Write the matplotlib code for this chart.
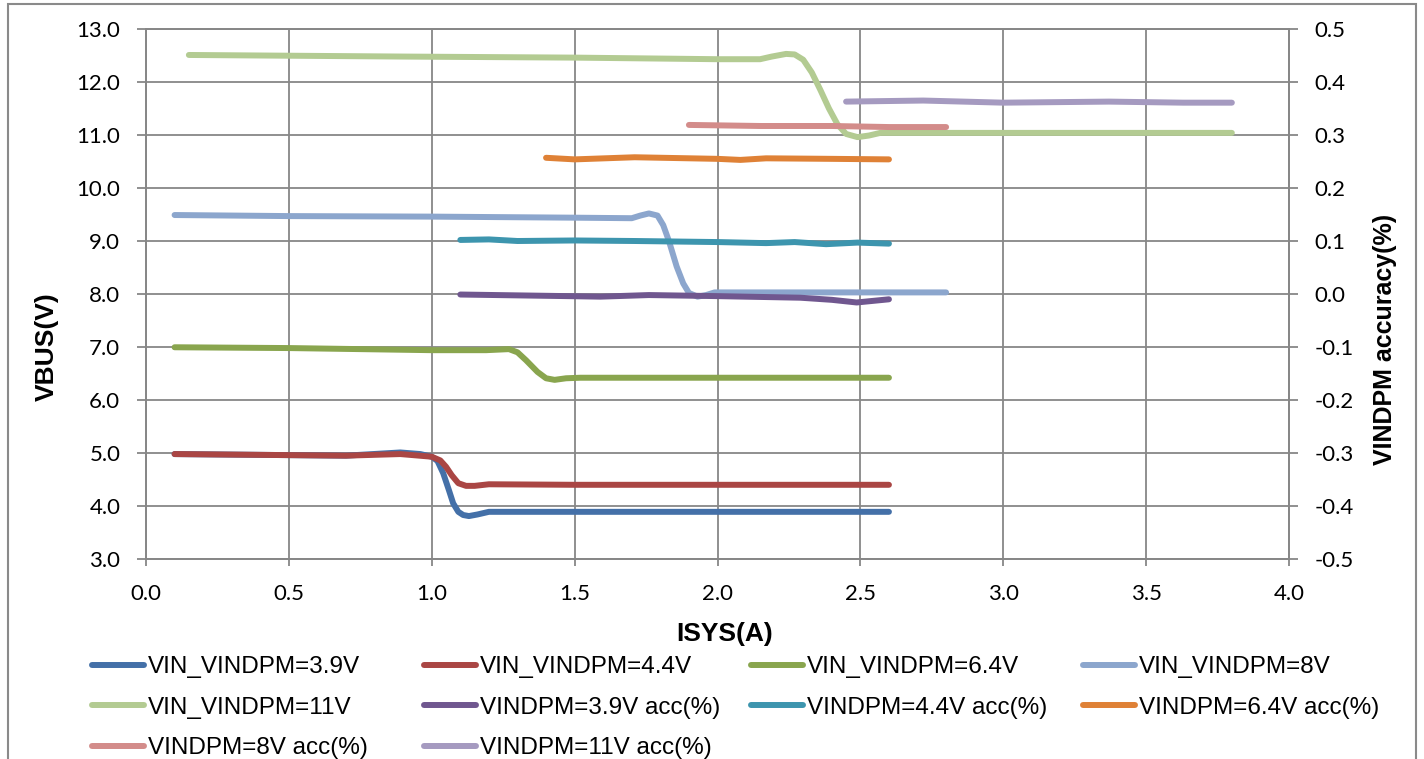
import matplotlib
matplotlib.use("Agg")
import matplotlib.pyplot as plt
from matplotlib.lines import Line2D
from matplotlib.patches import Rectangle

plt.rcParams['axes.unicode_minus'] = False

# ---------------- data ----------------
x_39 = [0.1, 0.5, 0.7, 0.89, 0.96, 1.0, 1.02, 1.04, 1.06, 1.075, 1.093, 1.11, 1.13, 1.16, 1.2, 1.5, 2.0, 2.6]
v_39 = [4.98, 4.96, 4.95, 5.01, 4.98, 4.93, 4.85, 4.62, 4.30, 4.05, 3.89, 3.83, 3.81, 3.84, 3.89, 3.89, 3.89, 3.89]

x_44 = [0.1, 0.5, 0.7, 0.89, 1.0, 1.03, 1.05, 1.07, 1.093, 1.12, 1.15, 1.2, 1.5, 2.0, 2.6]
v_44 = [4.98, 4.96, 4.95, 4.98, 4.93, 4.86, 4.74, 4.58, 4.43, 4.38, 4.38, 4.41, 4.40, 4.40, 4.40]

x_64 = [0.1, 0.5, 1.0, 1.19, 1.27, 1.30, 1.33, 1.37, 1.40, 1.43, 1.47, 1.52, 2.0, 2.6]
v_64 = [6.995, 6.98, 6.94, 6.94, 6.96, 6.90, 6.75, 6.53, 6.41, 6.38, 6.41, 6.42, 6.42, 6.42]

x_8 = [0.1, 0.5, 1.0, 1.5, 1.70, 1.73, 1.76, 1.79, 1.81, 1.83, 1.857, 1.88, 1.90, 1.93, 1.96, 1.99, 2.4, 2.8]
v_8 = [9.49, 9.47, 9.46, 9.44, 9.43, 9.48, 9.52, 9.48, 9.30, 9.00, 8.52, 8.20, 8.02, 7.95, 7.98, 8.03, 8.03, 8.03]

x_11 = [0.15, 0.9, 1.5, 2.0, 2.149, 2.19, 2.24, 2.27, 2.30, 2.33, 2.36, 2.39, 2.42, 2.45, 2.49, 2.53, 2.57, 3.0, 3.5, 3.8]
v_11 = [12.51, 12.48, 12.46, 12.43, 12.43, 12.48, 12.53, 12.52, 12.42, 12.18, 11.85, 11.50, 11.20, 11.02, 10.96, 10.99, 11.04, 11.04, 11.04, 11.04]

xa_39 = [1.1, 1.475, 1.59, 1.76, 2.0, 2.29, 2.40, 2.487, 2.6]
acc_39 = [-0.001, -0.004, -0.005, -0.002, -0.004, -0.007, -0.011, -0.016, -0.010]

xa_44 = [1.1, 1.2, 1.3, 1.5, 1.71, 2.0, 2.17, 2.27, 2.38, 2.49, 2.6]
acc_44 = [0.102, 0.103, 0.100, 0.101, 0.100, 0.098, 0.096, 0.098, 0.094, 0.097, 0.095]

xa_64 = [1.4, 1.5, 1.71, 2.0, 2.08, 2.17, 2.40, 2.6]
acc_64 = [0.257, 0.254, 0.258, 0.255, 0.253, 0.256, 0.255, 0.254]

xa_8 = [1.9, 2.15, 2.40, 2.6, 2.8]
acc_8 = [0.319, 0.317, 0.317, 0.315, 0.315]

xa_11 = [2.45, 2.72, 3.0, 3.37, 3.63, 3.8]
acc_11 = [0.363, 0.365, 0.361, 0.363, 0.361, 0.361]

labels = ["VIN_VINDPM=3.9V", "VIN_VINDPM=4.4V", "VIN_VINDPM=6.4V", "VIN_VINDPM=8V",
          "VIN_VINDPM=11V", "VINDPM=3.9V acc(%)", "VINDPM=4.4V acc(%)", "VINDPM=6.4V acc(%)",
          "VINDPM=8V acc(%)", "VINDPM=11V acc(%)"]
colors = ["#4470A8", "#AA4644", "#89A54E", "#8CA6CD", "#B3CB92",
          "#70578F", "#3D95AE", "#DF8136", "#D38C8A", "#A59AC0"]

x_ticks = [0.0, 0.5, 1.0, 1.5, 2.0, 2.5, 3.0, 3.5, 4.0]
y_ticks = [3.0, 4.0, 5.0, 6.0, 7.0, 8.0, 9.0, 10.0, 11.0, 12.0, 13.0]
y2_ticks = [-0.5, -0.4, -0.3, -0.2, -0.1, 0.0, 0.1, 0.2, 0.3, 0.4, 0.5]

# ---------------- figure ----------------
W, H = 1424, 759
fig = plt.figure(figsize=(W / 100, H / 100), dpi=100)
L, R, T, B = 146, 1289, 29, 559
ax = fig.add_axes([L / W, 1 - B / H, (R - L) / W, (B - T) / H])
ax2 = ax.twinx()

grid_c = "#878787"
lw = 4.3
tick_font = "Lato"

left_series = [(x_39, v_39), (x_44, v_44), (x_64, v_64), (x_8, v_8), (x_11, v_11)]
right_series = [(xa_39, acc_39), (xa_44, acc_44), (xa_64, acc_64), (xa_8, acc_8), (xa_11, acc_11)]

for i, (xs, ys) in enumerate(left_series):
    ax.plot(xs, ys, color=colors[i], lw=lw, solid_capstyle='round', solid_joinstyle='round')
for j, (xs, ys) in enumerate(right_series):
    ax2.plot(xs, ys, color=colors[5 + j], lw=lw, solid_capstyle='round', solid_joinstyle='round')

ax.set_xlim(0, 4)
ax.set_ylim(3, 13)
ax2.set_ylim(-0.5, 0.5)
ax.set_xticks(x_ticks)
ax.set_yticks(y_ticks)
ax2.set_yticks(y2_ticks)
ax.set_xticklabels([f"{v:.1f}" for v in x_ticks], fontfamily=tick_font, fontsize=16)
ax.set_yticklabels([f"{v:.1f}" for v in y_ticks], fontfamily=tick_font, fontsize=16)
ax2.set_yticklabels([f"{v:.1f}" for v in y2_ticks], fontfamily=tick_font, fontsize=16)

ax.grid(True, color=grid_c, lw=1.3)
ax.set_axisbelow(True)
for a in (ax, ax2):
    for s in a.spines.values():
        s.set_color(grid_c)
        s.set_linewidth(1.3)
ax.tick_params(axis='y', length=6.5, width=1.3, color=grid_c, pad=12, labelcolor='black')
ax.tick_params(axis='x', length=5, width=1.3, color=grid_c, pad=13, labelcolor='black')
ax2.tick_params(axis='y', length=6.5, width=1.3, color=grid_c, pad=12, labelcolor='black')

lab_font = "Liberation Sans"
fig.text(47 / W, 1 - 347 / H, "VBUS(V)", rotation=90, ha='center', va='center',
         fontfamily=lab_font, fontweight='bold', fontsize=19)
fig.text(725 / W, 1 - 634 / H, "ISYS(A)", ha='center', va='center',
         fontfamily=lab_font, fontweight='bold', fontsize=19)
fig.text(1385 / W, 1 - 339 / H, "VINDPM accuracy(%)", rotation=90, ha='center', va='center',
         fontfamily=lab_font, fontweight='bold', fontsize=18)

# legend: 4 columns, row-major order as in the source
col_x = [92, 424, 751, 1083]
for c in range(4):
    idx = [k for k in range(len(labels)) if k % 4 == c]
    hs = [Line2D([0], [0], color=colors[k], lw=lw, solid_capstyle='round') for k in idx]
    fig.legend(hs, [labels[k] for k in idx], loc='upper left',
               bbox_to_anchor=(col_x[c] / W, 1 - 656 / H), frameon=False,
               borderpad=0, borderaxespad=0, handlelength=2.15, handletextpad=0.15,
               labelspacing=0.77, prop={'family': lab_font, 'size': 17.5})

# outer chart border
fig.patches.append(Rectangle((8 / W, -0.05), (1416 - 8) / W, 1.05 - 4 / H,
                             transform=fig.transFigure, fill=False, edgecolor="#8a8a8a", lw=1.5))

fig.savefig("out.png", dpi=100)
